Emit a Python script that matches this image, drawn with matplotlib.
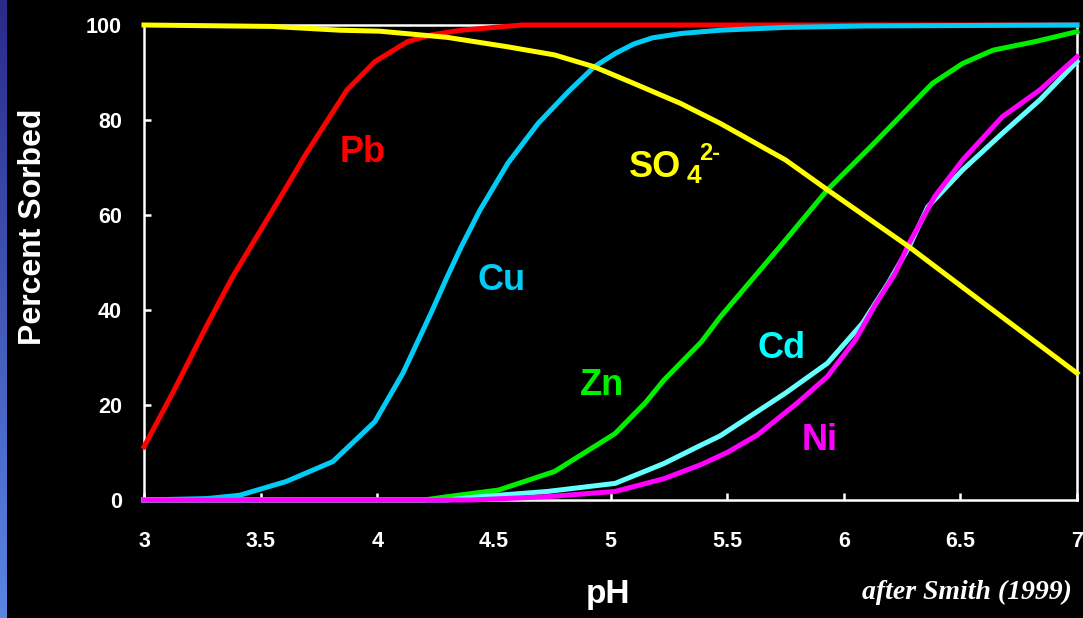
import numpy as np
import matplotlib
matplotlib.use('Agg')
import matplotlib.pyplot as plt
from matplotlib.colors import LinearSegmentedColormap

plt.rcParams['font.family'] = ['Liberation Sans', 'DejaVu Sans']
plt.rcParams['font.weight'] = 'bold'

# sorption edges, percent sorbed vs pH
ph_pb = [3.0, 3.13, 3.27, 3.38, 3.56, 3.70, 3.87, 3.99, 4.13, 4.23, 4.36, 4.62, 5.0, 6.0, 7.0]
pb = [11.2, 23.2, 36.8, 47.0, 61.7, 73.3, 86.3, 92.3, 96.5, 97.9, 98.9, 100, 100, 100, 100]

ph_cu = [3.0, 3.27, 3.41, 3.61, 3.81, 3.99, 4.11, 4.23, 4.30, 4.36, 4.44, 4.56, 4.69, 4.82,
         4.93, 5.02, 5.10, 5.18, 5.30, 5.47, 5.75, 6.1, 7.0]
cu = [0, 0.3, 1.0, 3.9, 8.1, 16.5, 26.7, 39.3, 47.0, 53.3, 61.0, 70.9, 79.3, 86.0,
      91.2, 94.0, 96.0, 97.3, 98.2, 98.9, 99.5, 99.8, 100]

ph_zn = [3.0, 4.2, 4.3, 4.52, 4.76, 5.02, 5.15, 5.23, 5.39, 5.47, 5.75, 5.93, 6.13, 6.38,
         6.51, 6.64, 6.82, 7.0]
zn = [0, 0, 0.7, 2.1, 6.0, 14.0, 20.5, 25.3, 33.3, 38.5, 54.7, 65.3, 75.1, 87.7,
      91.9, 94.7, 96.5, 98.6]

ph_cd = [3.0, 4.3, 4.44, 4.73, 5.02, 5.23, 5.39, 5.47, 5.75, 5.93, 6.08, 6.19, 6.28, 6.36,
         6.51, 6.68, 6.84, 7.0]
cd = [0, 0, 0.7, 1.8, 3.5, 7.7, 11.6, 13.5, 22.5, 28.8, 37.2, 45.6, 53.3, 61.7,
      69.5, 77.2, 84.2, 92.3]

ph_ni = [3.0, 4.4, 4.73, 5.02, 5.23, 5.39, 5.5, 5.63, 5.80, 5.93, 6.05, 6.13, 6.22, 6.28,
         6.39, 6.51, 6.68, 6.84, 7.0]
ni = [0, 0, 0.7, 1.8, 4.5, 7.5, 10.0, 13.7, 20.4, 26.0, 33.7, 40.7, 47.7, 54.0,
      63.9, 71.6, 80.7, 86.3, 93.3]

ph_so4 = [3.0, 3.55, 3.84, 4.01, 4.3, 4.56, 4.76, 4.93, 5.10, 5.30, 5.47, 5.75, 5.93, 6.28,
          6.62, 7.0]
so4 = [100, 99.7, 98.9, 98.7, 97.4, 95.4, 93.7, 91.2, 87.7, 83.5, 79.3, 71.6, 65.3, 53.3,
       40.7, 26.7]

xticks = [3, 3.5, 4, 4.5, 5, 5.5, 6, 6.5, 7]
xticklabels = ['3', '3.5', '4', '4.5', '5', '5.5', '6', '6.5', '7']
yticks = [0, 20, 40, 60, 80, 100]

fig = plt.figure(figsize=(10.83, 6.18), dpi=100, facecolor='black')

# blue strip down the left edge
strip = fig.add_axes([0, 0, 7/1083., 1])
grad = np.linspace(0, 1, 256).reshape(-1, 1)
cmap = LinearSegmentedColormap.from_list('strip', ['#2a2a8a', '#5a86e4'])
strip.imshow(grad, aspect='auto', cmap=cmap, origin='upper')
strip.axis('off')

ax = fig.add_axes([144/1083., 1-500/618., (1077-144)/1083., 475/618.])
ax.set_facecolor('black')

lw = 3.6
ax.plot(ph_pb, pb, color='#ff0000', lw=lw, clip_on=False, zorder=3)
ax.plot(ph_cu, cu, color='#00ccf5', lw=lw, clip_on=False, zorder=4)
ax.plot(ph_zn, zn, color='#00ee00', lw=lw, clip_on=False, zorder=5)
ax.plot(ph_cd, cd, color='#66ffff', lw=lw, clip_on=False, zorder=6)
ax.plot(ph_ni, ni, color='#ff00ff', lw=lw, clip_on=False, zorder=7)
ax.plot(ph_so4, so4, color='#ffff00', lw=lw, clip_on=False, zorder=8)

ax.set_xlim(3, 7)
ax.set_ylim(0, 100)
for s in ax.spines.values():
    s.set_color('white')
    s.set_linewidth(1.8)
    s.set_zorder(2)

ax.set_xticks(xticks)
ax.set_xticklabels(xticklabels)
ax.set_yticks(yticks)
ax.tick_params(axis='both', colors='white', direction='in', length=5, width=1.8,
               labelsize=15.5)
ax.tick_params(axis='x', pad=22)
ax.tick_params(axis='y', pad=16)
for lab in ax.get_xticklabels() + ax.get_yticklabels():
    lab.set_fontweight('bold')

# curve labels
fs = 26
ax.text(3.84, 71.2, 'Pb', color='#ff0000', fontsize=fs, fontweight='bold')
ax.text(4.43, 44.2, 'Cu', color='#00ccf5', fontsize=fs, fontweight='bold')
ax.text(4.87, 22.1, 'Zn', color='#00ee00', fontsize=fs, fontweight='bold')
ax.text(5.63, 29.9, 'Cd', color='#00ffff', fontsize=fs, fontweight='bold')
ax.text(5.82, 10.5, 'Ni', color='#ff00ff', fontsize=fs, fontweight='bold')
ax.text(5.08, 68.0, 'SO', color='#ffff00', fontsize=fs, fontweight='bold')
ax.text(5.325, 66.7, '4', color='#ffff00', fontsize=19, fontweight='bold')
ax.text(5.38, 71.6, '2-', color='#ffff00', fontsize=17, fontweight='bold')

fig.text(33/1083., 1-227/618., 'Percent Sorbed', rotation=90, color='white',
         fontsize=23, fontweight='bold', ha='center', va='center')
fig.text(608/1083., 1-603/618., 'pH', color='white', fontsize=24,
         fontweight='bold', ha='center', va='baseline')
fig.text(1072/1083., 1-599/618., 'after Smith (1999)', color='white', fontsize=20,
         fontweight='bold', style='italic', ha='right', va='baseline',
         family=['Liberation Serif', 'DejaVu Serif'])

fig.savefig('out.png', dpi=100, facecolor='black')
